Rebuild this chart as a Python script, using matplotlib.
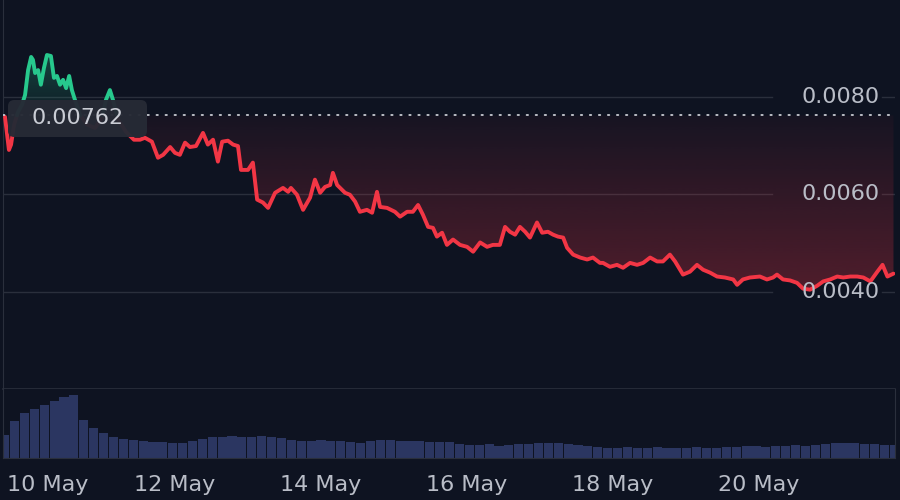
import numpy as np
import pandas as pd
import matplotlib
matplotlib.use("Agg")
import matplotlib.pyplot as plt
import matplotlib.dates as mdates
import matplotlib.transforms as mtransforms
from matplotlib.colors import to_rgb
from matplotlib.path import Path
from matplotlib.patches import FancyBboxPatch

# price series: hours after 9 May 00:00 and price
hours = [16.1, 16.8, 17.4, 18.1, 19.1, 20.4, 21.7, 22.7, 23.7, 24.7, 25.3, 26.0, 27.0, 27.9, 28.9,
         29.9, 31.2, 32.2, 33.2, 34.2, 35.2, 36.2, 37.2, 38.1, 39.1, 40.8, 43.1, 45.7, 48.0, 49.3,
         50.6, 51.6, 53.3, 55.9, 58.5, 60.5, 62.1, 64.4, 66.4, 68.1, 70.4, 72.0, 73.6, 75.3, 76.9,
         78.9, 81.2, 82.8, 84.5, 86.1, 87.5, 89.4, 91.1, 92.7, 93.7, 96.0, 97.6, 99.0, 100.9, 102.6,
         104.9, 107.5, 109.2, 110.1, 112.1, 114.1, 116.4, 118.0, 119.7, 121.3, 123.0, 123.9, 125.3,
         127.9, 129.5, 131.2, 132.8, 135.1, 136.8, 138.4, 139.4, 141.7, 144.3, 146.0, 148.3, 150.2,
         151.9, 153.5, 155.2, 156.8, 158.1, 159.8, 161.4, 163.4, 165.7, 168.0, 170.0, 172.3, 174.6,
         176.5, 178.8, 180.5, 182.1, 183.8, 185.4, 187.1, 188.7, 191.0, 192.7, 194.6, 196.3, 197.9,
         199.6, 200.9, 202.9, 205.2, 207.5, 209.4, 211.7, 212.7, 215.0, 217.3, 219.3, 221.6, 223.9,
         225.9, 228.2, 230.5, 232.4, 234.7, 236.4, 239.0, 241.3, 243.6, 245.6, 247.9, 250.2, 252.8,
         255.5, 256.8, 258.7, 261.0, 264.3, 266.6, 268.6, 269.9, 271.9, 274.2, 276.5, 278.5, 280.8,
         283.1, 285.1, 287.4, 289.7, 291.7, 294.0, 296.3, 298.3, 300.6, 302.9, 304.6, 306.2, 308.2]
prices = [0.00759, 0.00722, 0.00691, 0.00702, 0.00743, 0.00769, 0.00784, 0.00804, 0.00855, 0.00882,
          0.00876, 0.00849, 0.00855, 0.00825, 0.00859, 0.00886, 0.00884, 0.00839, 0.00843, 0.00825,
          0.00835, 0.00818, 0.00843, 0.00814, 0.00794, 0.00763, 0.00743, 0.00736, 0.00757, 0.00794,
          0.00814, 0.00794, 0.00753, 0.00728, 0.00712, 0.00712, 0.00716, 0.00708, 0.00675, 0.00681,
          0.00697, 0.00685, 0.00681, 0.00706, 0.00697, 0.00699, 0.00726, 0.00702, 0.00712, 0.00667,
          0.00708, 0.00710, 0.00702, 0.00699, 0.00650, 0.00650, 0.00665, 0.00589, 0.00583, 0.00572,
          0.00603, 0.00613, 0.00605, 0.00613, 0.00599, 0.00568, 0.00593, 0.00630, 0.00603, 0.00615,
          0.00619, 0.00644, 0.00619, 0.00603, 0.00599, 0.00585, 0.00564, 0.00568, 0.00562, 0.00605,
          0.00574, 0.00572, 0.00564, 0.00554, 0.00564, 0.00564, 0.00578, 0.00558, 0.00533, 0.00531,
          0.00513, 0.00521, 0.00496, 0.00507, 0.00496, 0.00492, 0.00482, 0.00501, 0.00492, 0.00496,
          0.00496, 0.00533, 0.00523, 0.00517, 0.00533, 0.00523, 0.00511, 0.00542, 0.00521, 0.00523,
          0.00517, 0.00513, 0.00511, 0.00490, 0.00476, 0.00470, 0.00466, 0.00470, 0.00459, 0.00459,
          0.00451, 0.00455, 0.00449, 0.00459, 0.00455, 0.00459, 0.00470, 0.00462, 0.00462, 0.00476,
          0.00462, 0.00435, 0.00441, 0.00455, 0.00445, 0.00439, 0.00431, 0.00429, 0.00425, 0.00414,
          0.00425, 0.00429, 0.00431, 0.00425, 0.00429, 0.00435, 0.00425, 0.00423, 0.00418, 0.00406,
          0.00404, 0.00412, 0.00421, 0.00425, 0.00431, 0.00429, 0.00431, 0.00431, 0.00429, 0.00421,
          0.00441, 0.00455, 0.00431, 0.00437]

# volume: one bar every 3h15m starting 9 May 16:00
vol_start_hour = 16
vol_step_hours = 3.25
volume = [23, 37, 45, 49, 53, 57, 61, 63, 38, 30,
          25, 21, 19, 18, 17, 16, 16, 15, 15, 17,
          19, 21, 21, 22, 21, 21, 22, 21, 20, 18,
          17, 17, 18, 17, 17, 16, 15, 17, 18, 18,
          17, 17, 17, 16, 16, 16, 14, 13, 13, 14,
          12, 13, 14, 14, 15, 15, 15, 14, 13, 12,
          11, 10, 10, 11, 10, 10, 11, 10, 10, 10,
          11, 10, 10, 11, 11, 12, 12, 11, 12, 12,
          13, 12, 13, 14, 15, 15, 15, 14, 14, 13, 13]

baseline = 0.00762
price_ticks = [0.0040, 0.0060, 0.0080]
tick_days = ["2024-05-12", "2024-05-14", "2024-05-16", "2024-05-18", "2024-05-20"]

BG = "#0e1321"
GRID = "#2a2f3c"
TXT = "#b9bdc7"
RED = "#f23645"
GREEN = "#27c98d"
VOLC = "#2b3661"

t0 = pd.Timestamp("2024-05-09")
x = mdates.date2num(t0 + pd.to_timedelta(hours, unit="h"))
p = np.array(prices)
xv = mdates.date2num(t0 + pd.to_timedelta(vol_start_hour + vol_step_hours * np.arange(len(volume)), unit="h"))

# view range
xlim = mdates.date2num([t0 + pd.Timedelta(hours=15.45), t0 + pd.Timedelta(hours=308.7)])

# add the points where the line crosses the baseline so colours switch cleanly
xs, ps = [x[0]], [p[0]]
for i in range(1, len(x)):
    if (p[i - 1] - baseline) * (p[i] - baseline) < 0:
        f = (baseline - p[i - 1]) / (p[i] - p[i - 1])
        xs.append(x[i - 1] + f * (x[i] - x[i - 1]))
        ps.append(baseline)
    xs.append(x[i])
    ps.append(p[i])
xs = np.array(xs)
ps = np.array(ps)

fig = plt.figure(figsize=(9, 5), dpi=100, facecolor=BG)
ax = fig.add_axes([3 / 900, 111 / 500, 892 / 900, 389 / 500], facecolor=BG)
axv = fig.add_axes([3 / 900, 42 / 500, 892 / 900, 69 / 500], facecolor=BG)

# grid lines (broken where the price labels sit)
for v in price_ticks:
    ax.axhline(v, xmin=0, xmax=0.862, color=GRID, lw=1, zorder=0)
    ax.axhline(v, xmin=0.985, xmax=1, color=GRID, lw=1, zorder=0)
ax.axhline(0.0020, color=GRID, lw=1.2, zorder=0, clip_on=False)


def gradient(ax, lo, hi, color, a_lo, a_hi, clip_lower, clip_upper):
    img = np.zeros((256, 1, 4))
    img[..., :3] = to_rgb(color)
    img[..., 3] = np.linspace(a_lo, a_hi, 256)[:, None]
    im = ax.imshow(img, extent=[xlim[0], xlim[1], lo, hi], origin="lower",
                   aspect="auto", zorder=1, interpolation="bilinear")
    poly = ax.fill_between(xs, clip_lower, clip_upper, color="none", lw=0)
    path = Path.make_compound_path(*poly.get_paths())
    im.set_clip_path(path, transform=ax.transData)


gradient(ax, 0.0039, baseline, RED, 0.30, 0.04, np.minimum(ps, baseline), baseline)
gradient(ax, baseline, 0.0090, GREEN, 0.05, 0.30, baseline, np.maximum(ps, baseline))

ax.plot(xs, np.where(ps <= baseline, ps, np.nan), color=RED, lw=2.8, zorder=3,
        solid_joinstyle="round", solid_capstyle="round")
ax.plot(xs, np.where(ps >= baseline, ps, np.nan), color=GREEN, lw=2.8, zorder=3,
        solid_joinstyle="round", solid_capstyle="round")

ax.axhline(baseline, color="#c9ccd3", lw=1.3, ls=(0, (0.8, 4.2)), zorder=4,
           dash_capstyle="round")

ax.set_xlim(xlim)
ax.set_ylim(0.0020, 0.00999)
ax.set_xticks([])
ax.set_yticks([])
for s in ["top", "bottom", "right"]:
    ax.spines[s].set_visible(False)
ax.spines["left"].set_color(GRID)

# right side price labels
trans = mtransforms.blended_transform_factory(ax.transAxes, ax.transData)
for v in price_ticks:
    ax.text(0.983, v, f"{v:.4f}", transform=trans, ha="right", va="center",
            color=TXT, fontsize=16, zorder=5)

# baseline value tag
box = FancyBboxPatch((8 / 900, 363 / 500), 139 / 900, 37 / 500,
                     boxstyle="round,pad=0,rounding_size=0.007", mutation_aspect=1.8,
                     transform=fig.transFigure, facecolor="#262a35", edgecolor="none",
                     alpha=0.97, zorder=6, clip_on=False)
ax.add_patch(box)
fig.text(77.5 / 900, 382 / 500, f"{baseline:.5f}", ha="center", va="center",
         color="#c9ccd4", fontsize=16, zorder=7)

# volume pane
axv.bar(xv, volume, width=vol_step_hours / 24 * 0.92, color=VOLC, linewidth=0)
axv.set_xlim(xlim)
axv.set_ylim(0, 69)
axv.set_yticks([])
axv.set_xticks(mdates.date2num(pd.to_datetime(tick_days)))
axv.set_xticklabels([f"{pd.Timestamp(d).day} May" for d in tick_days])
axv.tick_params(axis="x", length=0, pad=12, labelsize=16, labelcolor=TXT)
axv.spines["top"].set_visible(False)
for s in ["bottom", "left", "right"]:
    axv.spines[s].set_color(GRID)

fig.text(7 / 900, 15 / 500, "10 May", ha="left", va="center", color=TXT, fontsize=16)

fig.savefig("out.png", dpi=100, facecolor=BG)
